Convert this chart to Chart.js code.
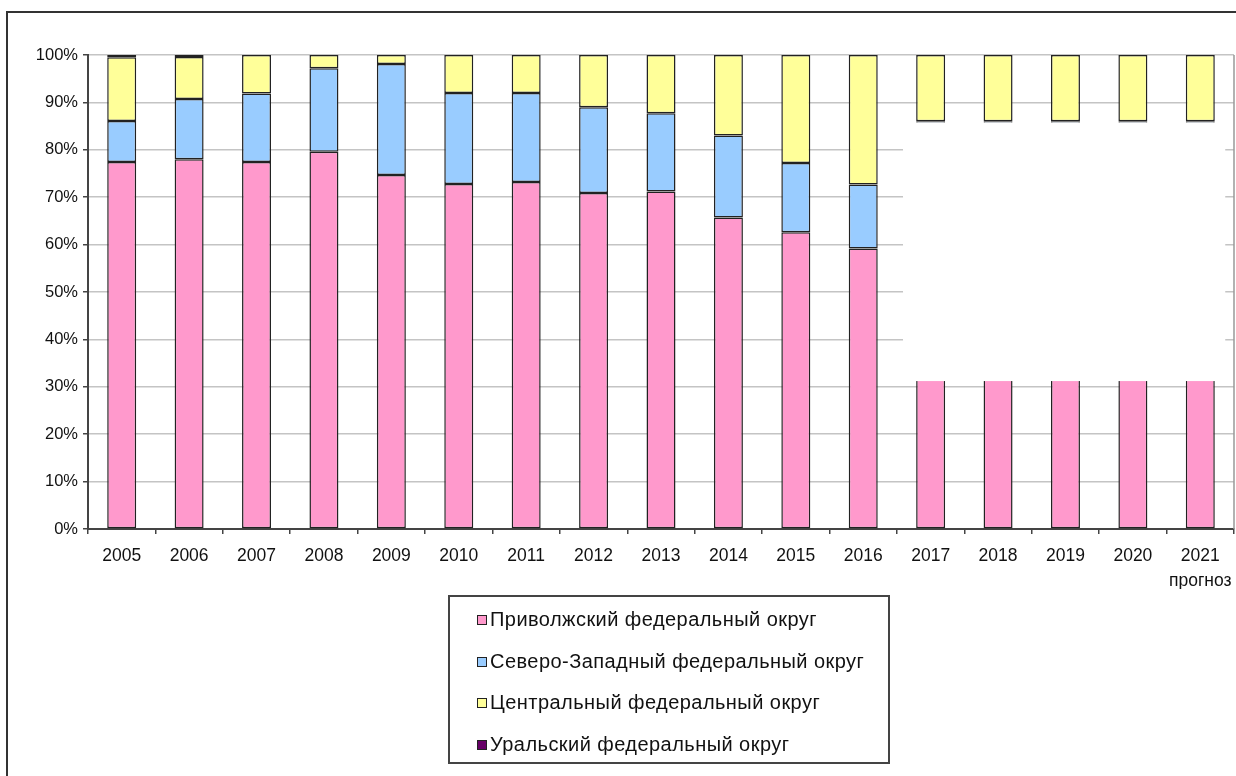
<!DOCTYPE html>
<html>
<head>
<meta charset="utf-8">
<script src="https://cdn.jsdelivr.net/npm/chart.js@4/dist/chart.umd.min.js"></script>
<style>
    html, body { margin: 0; padding: 0; background: #fff; overflow: hidden; width: 1236px; height: 776px; }
    #frame { position: absolute; left: 6px; top: 11px; width: 1400px; height: 900px; border: 2px solid #333; }
    #wrap { position: absolute; left: 0; top: 0; width: 1260px; height: 776px; }
    #legend { position: absolute; left: 448px; top: 595px; width: 438px; height: 165px; border: 2px solid #444;
              box-sizing: content-box; font-family: "Liberation Sans", Arial, sans-serif; font-size: 20px; color: #111; }
    #legend .item { position: absolute; left: 27px; height: 24px; line-height: 24px; white-space: nowrap; letter-spacing: 0.45px; }
    #legend .box { display: inline-block; width: 8px; height: 8px; border: 1.5px solid #222; margin-right: 3px; vertical-align: 1px; }
</style>
</head>
<body>
<div id="frame"></div>
<div id="wrap"><canvas id="chart"></canvas></div>
<div id="legend"></div>
<script>
const years = ['2005', '2006', '2007', '2008', '2009', '2010', '2011', '2012', '2013', '2014', '2015', '2016',
    '2017', '2018', '2019', '2020', ['2021', 'прогноз']];

// shares, % (2017-2021: only the bottom and top parts are visible in the source)
const privolzhsky = [77.4, 78.0, 77.4, 79.6, 74.7, 72.8, 73.2, 70.9, 71.2, 65.7, 62.6, 59.2, 60, 60, 60, 60, 60];
const severoZapad = [8.7, 12.7, 14.5, 17.6, 23.4, 19.2, 18.8, 18.1, 16.5, 17.3, 14.6, 13.5, 26, 26, 26, 26, 26];
const centralny = [13.4, 8.9, 8.1, 2.8, 1.9, 8.0, 8.0, 11.0, 12.3, 17.0, 22.8, 27.3, 14, 14, 14, 14, 14];
const uralsky = [0.5, 0.4, null, null, null, null, null, null, null, null, null, null, null, null, null, null, null];

const seriesNames = ['Приволжский федеральный округ', 'Северо-Западный федеральный округ',
    'Центральный федеральный округ', 'Уральский федеральный округ'];
const seriesColors = ['#FF99CC', '#99CCFF', '#FFFF99', '#660066'];

function makeSet(i, values) {
    return {
        label: seriesNames[i],
        data: values,
        backgroundColor: seriesColors[i],
        borderColor: '#222',
        borderWidth: 1.5,
        borderSkipped: false,
        barPercentage: 0.43,
        categoryPercentage: 1
    };
}

// white box covering the middle of the forecast bars, as in the source picture
const coverBox = {
    id: 'coverBox',
    afterDatasetsDraw(chart) {
        const x = chart.scales.x, y = chart.scales.y;
        const w = x.getPixelForValue(1) - x.getPixelForValue(0);
        const ctx = chart.ctx;
        ctx.save();
        ctx.fillStyle = '#fff';
        const left = x.getPixelForValue(11) + 0.59 * w;
        const right = x.getPixelForValue(16) + 0.37 * w;
        const top = y.getPixelForValue(86) + 1;
        const bottom = y.getPixelForValue(31) - 1;
        ctx.fillRect(left, top, right - left, bottom - top);
        // right border of the plot area
        ctx.strokeStyle = '#999';
        ctx.lineWidth = 1.5;
        ctx.beginPath();
        ctx.moveTo(chart.chartArea.right, chart.chartArea.top);
        ctx.lineTo(chart.chartArea.right, chart.chartArea.bottom);
        ctx.stroke();
        ctx.restore();
    }
};

const chart = new Chart(document.getElementById('chart'), {
    type: 'bar',
    data: {
        labels: years,
        datasets: [
            makeSet(0, privolzhsky),
            makeSet(1, severoZapad),
            makeSet(2, centralny),
            makeSet(3, uralsky)
        ]
    },
    options: {
        responsive: true,
        maintainAspectRatio: false,
        animation: false,
        layout: { padding: { left: 20, top: 55, right: 26, bottom: 187 } },
        plugins: {
            legend: { display: false },
            tooltip: { enabled: false }
        },
        scales: {
            x: {
                stacked: true,
                afterFit: function (scale) { scale.height = 60; },
                grid: {
                    offset: true,
                    drawOnChartArea: false,
                    tickLength: 5,
                    color: '#444',
                    lineWidth: 1.5
                },
                border: { color: '#444', width: 2 },
                ticks: {
                    color: '#111',
                    padding: 9,
                    maxRotation: 0,
                    autoSkip: false,
                    font: { family: '"Liberation Sans", Arial, sans-serif', size: 17.5, lineHeight: 1.45 }
                }
            },
            y: {
                stacked: true,
                min: 0,
                max: 100,
                afterFit: function (scale) { scale.width = 68; },
                grid: {
                    color: '#c4c4c4',
                    lineWidth: 1.5,
                    tickLength: 5,
                    tickColor: '#444'
                },
                border: { color: '#444', width: 2 },
                ticks: {
                    stepSize: 10,
                    color: '#111',
                    padding: 5,
                    font: { family: '"Liberation Sans", Arial, sans-serif', size: 16.5 },
                    callback: function (value) {
                        return value + '%';
                    }
                }
            }
        }
    },
    plugins: [coverBox]
});

// legend: one item per row, left aligned
const legend = document.getElementById('legend');
const rowTops = [10, 52, 93, 135];
chart.data.datasets.forEach((ds, i) => {
    const item = document.createElement('div');
    item.className = 'item';
    item.style.top = rowTops[i] + 'px';
    item.innerHTML = '<span class="box" style="background:' + ds.backgroundColor + '"></span>' + ds.label;
    legend.appendChild(item);
});
</script>
</body>
</html>
